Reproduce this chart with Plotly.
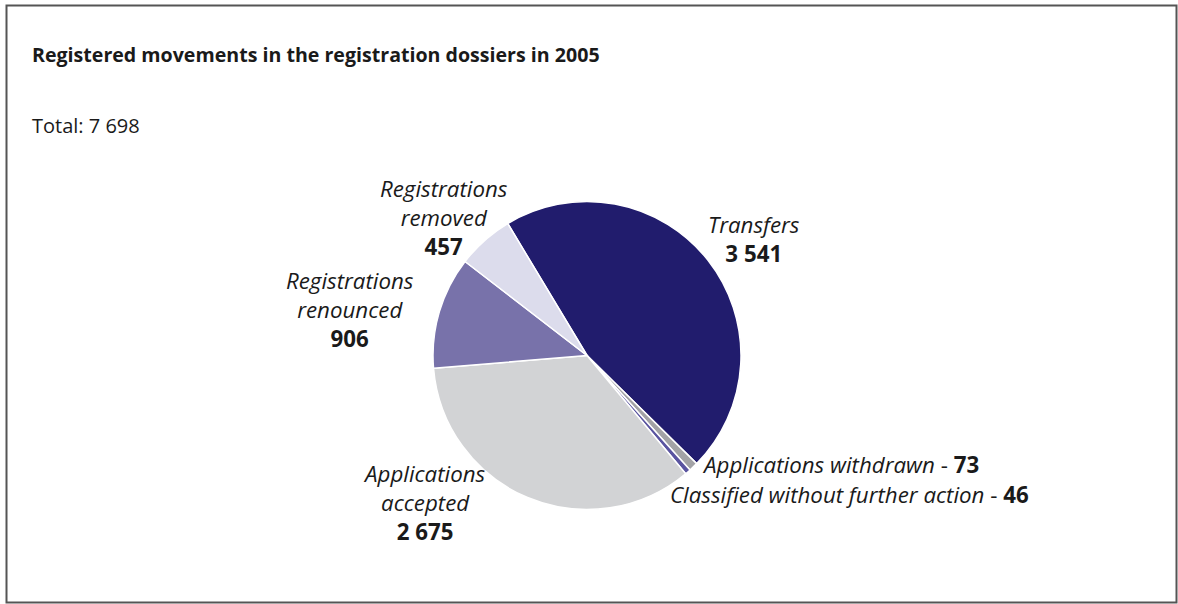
import plotly.graph_objects as go

# Registered movements in the registration dossiers, 2005
categories = [
    "Transfers",
    "Applications withdrawn",
    "Classified without further action",
    "Applications accepted",
    "Registrations renounced",
    "Registrations removed",
]
values = [3541, 73, 46, 2675, 906, 457]
colors = ["#211c6d", "#a3a3a6", "#5a54a0", "#d2d3d5", "#7872aa", "#dcdcec"]

W, H = 1178, 604
FONT = "Open Sans"
TXT = "#1a1a1a"


def fmt(n):
    return f"{n:,}".replace(",", " ")


total = sum(values)

cx, cy, r = 587, 355.5, 154

fig = go.Figure(
    go.Pie(
        labels=categories,
        values=values,
        sort=False,
        direction="clockwise",
        rotation=-31,
        marker=dict(colors=colors, line=dict(color="white", width=1.5)),
        textinfo="none",
        hoverinfo="label+value",
        showlegend=False,
        domain=dict(
            x=[(cx - r) / W, (cx + r) / W],
            y=[1 - (cy + r) / H, 1 - (cy - r) / H],
        ),
    )
)


def px(x):
    return x / W


def py(y):
    return 1 - y / H


annotations = [
    dict(
        x=px(30), y=py(55), xanchor="left", yanchor="middle",
        text="<b>Registered movements in the registration dossiers in 2005</b>",
        font=dict(size=19.6, color=TXT),
    ),
    dict(
        x=px(30), y=py(125), xanchor="left", yanchor="middle",
        text=f"Total: {fmt(total)}",
        font=dict(size=20, color=TXT),
    ),
]

LBL = 22.3

# stacked labels: italic name over a bold value, centred at (x, y)
stacked = {
    "Registrations removed": (444, 217, "Registrations<br>removed"),
    "Transfers": (754, 239, "Transfers"),
    "Registrations renounced": (350, 309, "Registrations<br>renounced"),
    "Applications accepted": (424, 502, "Applications<br>accepted"),
}
for cat, v in zip(categories, values):
    if cat in stacked:
        x, y, name = stacked[cat]
        annotations.append(dict(
            x=px(x), y=py(y), xanchor="center", yanchor="middle",
            text=f"<i>{name}</i><br><b>{fmt(v)}</b>",
            font=dict(size=LBL, color=TXT),
        ))

# inline labels for the two small slices
inline = {
    "Applications withdrawn": (700, 464),
    "Classified without further action": (668, 494),
}
for cat, v in zip(categories, values):
    if cat in inline:
        x, y = inline[cat]
        annotations.append(dict(
            x=px(x), y=py(y), xanchor="left", yanchor="middle",
            text=f"<i>{cat}</i> - <b>{fmt(v)}</b>",
            font=dict(size=LBL, color=TXT),
        ))

for a in annotations:
    a.update(xref="paper", yref="paper", showarrow=False)

fig.update_layout(
    width=W,
    height=H,
    margin=dict(l=0, r=0, t=0, b=0),
    paper_bgcolor="white",
    plot_bgcolor="white",
    font=dict(family=FONT, color=TXT),
    annotations=annotations,
    shapes=[
        dict(
            type="rect", xref="paper", yref="paper",
            x0=px(6.5), x1=px(1176.5), y0=py(602.5), y1=py(5.5),
            line=dict(color="#555555", width=2),
        )
    ],
)

fig.write_html("out.html")
